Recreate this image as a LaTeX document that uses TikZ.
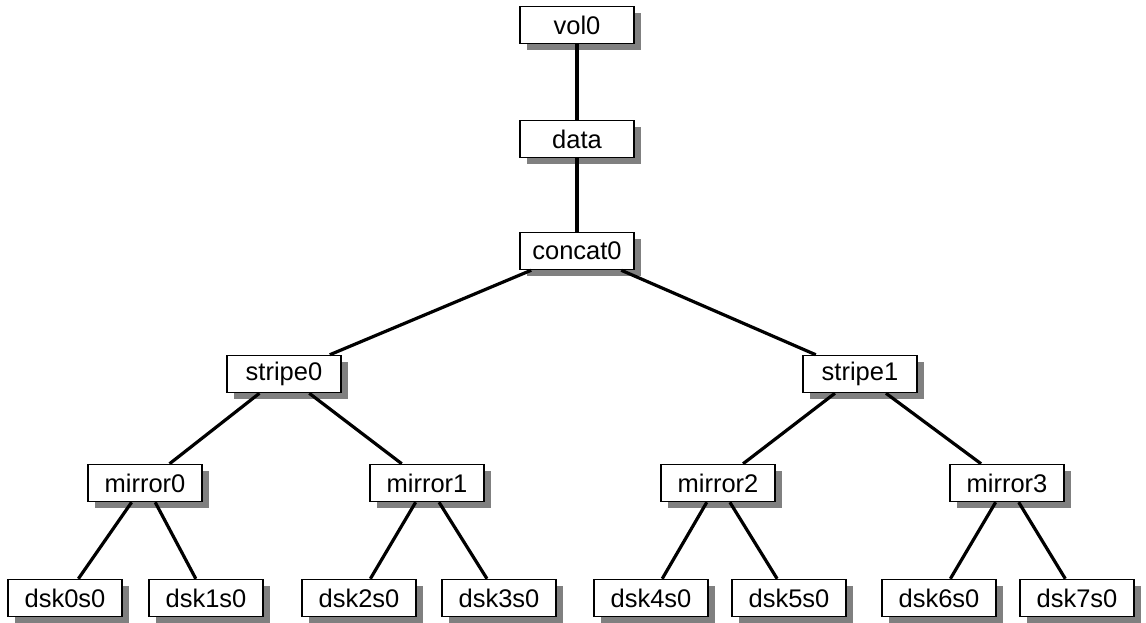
\documentclass[tikz,border=0pt]{standalone}
\usepackage{fontspec}
\setmainfont{Liberation Sans}
\usepackage{xcolor}
\usepackage{tikz}
\usetikzlibrary{shadows}

\begin{document}
\begin{tikzpicture}[x=1pt, y=-1pt,
    vbox/.style={draw, line width=1.5pt, fill=white, minimum width=114pt, minimum height=37pt,
        inner sep=0pt, font=\fontsize{25.5}{29}\selectfont,
        drop shadow={shadow xshift=6.5pt, shadow yshift=-6.5pt, fill=gray, opacity=1}},
    link/.style={line width=3.2pt}]
			\useasboundingbox (0,0) rectangle (1146,622);
			% Nodes
			\node[vbox] (vol) at (577,25) {vol0};
			\node[vbox] (data) at (577,139) {data};
			\node[vbox] (concat) at (577,251) {concat0};
			\node[vbox] (stripe0) at (284,374) {stripe0};
			\node[vbox] (stripe1) at (860,374) {stripe1};
			\node[vbox] (mirror0) at (145,483) {mirror0};
			\node[vbox] (mirror1) at (427,483) {mirror1};
			\node[vbox] (mirror2) at (718,483) {mirror2};
			\node[vbox] (mirror3) at (1007,483) {mirror3};
			\node[vbox] (dsk0) at (65,598) {dsk0s0};
			\node[vbox] (dsk1) at (206,598) {dsk1s0};
			\node[vbox] (dsk2) at (359,598) {dsk2s0};
			\node[vbox] (dsk3) at (499,598) {dsk3s0};
			\node[vbox] (dsk4) at (651,598) {dsk4s0};
			\node[vbox] (dsk5) at (789,598) {dsk5s0};
			\node[vbox] (dsk6) at (939,598) {dsk6s0};
			\node[vbox] (dsk7) at (1077,598) {dsk7s0};
			
			% Links
			\draw[link] (vol) -- (data);
			\draw[link] (data) -- (concat);
			\draw[link] (concat) -- (stripe0);
			\draw[link] (concat) -- (stripe1);
			\draw[link] (stripe0) -- (mirror0);
			\draw[link] (stripe0) -- (mirror1);
			\draw[link] (stripe1) -- (mirror2);
			\draw[link] (stripe1) -- (mirror3);
			\draw[link] (mirror0) -- (dsk0);
			\draw[link] (mirror0) -- (dsk1);
			\draw[link] (mirror1) -- (dsk2);
			\draw[link] (mirror1) -- (dsk3);
			\draw[link] (mirror2) -- (dsk4);
			\draw[link] (mirror2) -- (dsk5);
			\draw[link] (mirror3) -- (dsk6);
			\draw[link] (mirror3) -- (dsk7);
		\end{tikzpicture}
\end{document}
